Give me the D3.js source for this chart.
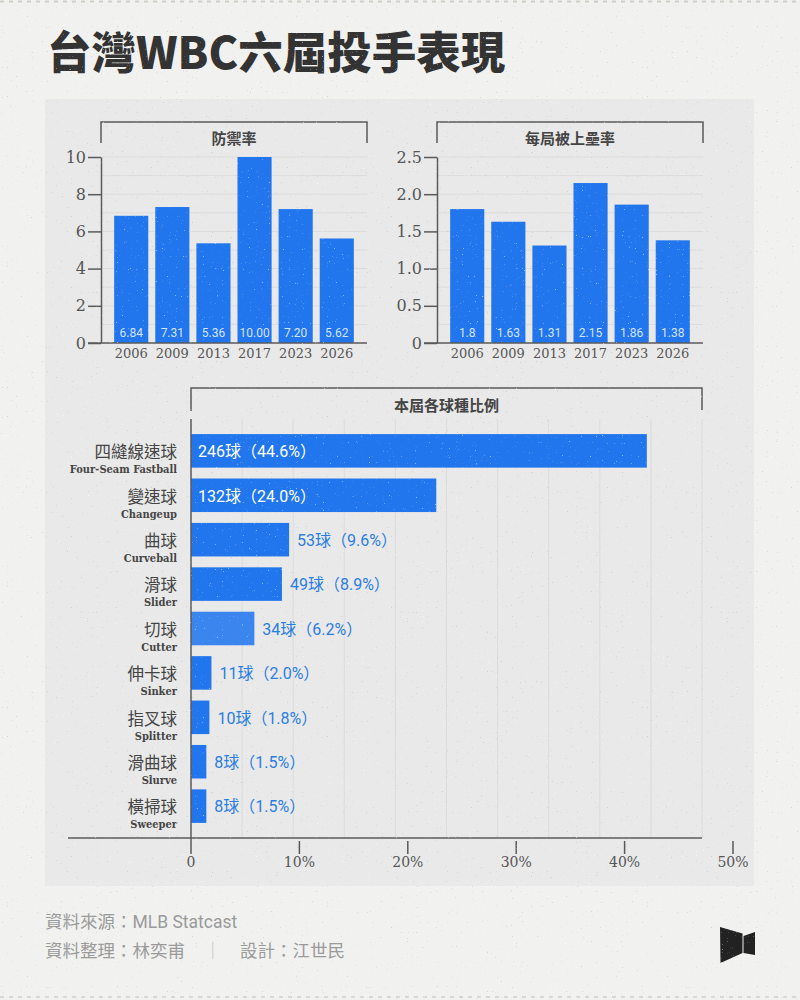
<!DOCTYPE html>
<html><head><meta charset="utf-8">
<script src="https://cdn.jsdelivr.net/npm/d3@7"></script>
<style>html,body{margin:0;padding:0;background:#f1f1f0;}svg{display:block;}</style>
</head><body>
<svg id="c" width="800" height="1000"></svg>
<script>
// ---------- data ----------
const years = ["2006","2009","2013","2017","2023","2026"];
const eraValues = [6.84, 7.31, 5.36, 10.00, 7.20, 5.62];
const whipValues = [1.8, 1.63, 1.31, 2.15, 1.86, 1.38];
const eraTicks = [0, 2, 4, 6, 8, 10];
const whipTicks = [0, 0.5, 1.0, 1.5, 2.0, 2.5];
const pitchZh = ["四縫線速球","變速球","曲球","滑球","切球","伸卡球","指叉球","滑曲球","橫掃球"];
const pitchEn = ["Four-Seam Fastball","Changeup","Curveball","Slider","Cutter","Sinker","Splitter","Slurve","Sweeper"];
const pitchCount = [246, 132, 53, 49, 34, 11, 10, 8, 8];
const pitchPct = [44.6, 24.0, 9.6, 8.9, 6.2, 2.0, 1.8, 1.5, 1.5];
const pctTicks = [0, 10, 20, 30, 40, 50];

// ---------- styles ----------
const BLUE = "#2176ee";
const CJK = "'Noto Sans CJK TC','Noto Sans',sans-serif";
const SLAB = "'DejaVu Serif',serif";
const SLABC = "'DejaVu Serif Condensed','DejaVu Serif',serif";
const SANS = "Roboto,'Noto Sans CJK TC',sans-serif";
const AX = "#5a5a5a";

const svg = d3.select("#c");
const defs = svg.append("defs");
const f1 = defs.append("filter").attr("id","speckDark").attr("x",0).attr("y",0).attr("width","100%").attr("height","100%");
f1.append("feTurbulence").attr("type","fractalNoise").attr("baseFrequency",0.8).attr("numOctaves",1).attr("seed",7);
f1.append("feColorMatrix").attr("type","matrix").attr("values","0 0 0 0 0.45  0 0 0 0 0.42  0 0 0 0 0.38  14 0 0 0 -9.9");
const f2 = defs.append("filter").attr("id","speckLight").attr("x",0).attr("y",0).attr("width","100%").attr("height","100%");
f2.append("feTurbulence").attr("type","fractalNoise").attr("baseFrequency",0.85).attr("numOctaves",1).attr("seed",21);
f2.append("feColorMatrix").attr("type","matrix").attr("values","0 0 0 0 1  0 0 0 0 1  0 0 0 0 1  14 0 0 0 -9.9");

svg.append("rect").attr("width",800).attr("height",1000).attr("fill","#f1f1f0");
svg.append("line").attr("x1",0).attr("x2",800).attr("y1",1.5).attr("y2",1.5).attr("stroke","#cfcfc8").attr("stroke-width",2).attr("stroke-dasharray","4,5");
svg.append("line").attr("x1",0).attr("x2",800).attr("y1",997).attr("y2",997).attr("stroke","#d8d8d2").attr("stroke-width",2).attr("stroke-dasharray","4,5");
svg.append("rect").attr("x",45).attr("y",99).attr("width",709).attr("height",787).attr("fill","#e9e9e9");

// title
svg.append("text").attr("x",47).attr("y",69).attr("font-family",CJK).attr("font-weight",900)
  .attr("font-size",44.5).attr("fill","#333").text("台灣WBC六屆投手表現");

// ---------- top charts ----------
function drawTop(x0, x1, values, maxV, ticks, step, title, tickFmt, valFmt){
  const g = svg.append("g");
  const y = d3.scaleLinear().domain([0, maxV]).range([343, 157]);
  const x = d3.scaleBand().domain(years).range([x0, x1]).paddingInner(0.17).paddingOuter(0.32);
  const grid = d3.range(0, maxV + 1e-9, step).slice(1);
  g.selectAll(".gl").data(grid).join("line")
    .attr("x1", x0).attr("x2", x1).attr("y1", d => y(d)).attr("y2", d => y(d))
    .attr("stroke", "#dcdcdc").attr("stroke-width", 1);
  g.selectAll(".bar").data(values).join("rect")
    .attr("x", (d,i) => x(years[i])).attr("width", x.bandwidth())
    .attr("y", d => y(d)).attr("height", d => y(0) - y(d)).attr("fill", BLUE);
  g.selectAll(".vl").data(values).join("text")
    .attr("x", (d,i) => x(years[i]) + x.bandwidth()/2).attr("y", 337)
    .attr("text-anchor","middle").attr("font-family",SANS).attr("font-size",12)
    .attr("fill","rgba(255,255,255,0.82)").text(valFmt);
  const ay = g.append("g").attr("transform",`translate(${x0},0)`)
    .call(d3.axisLeft(y).tickValues(ticks).tickSize(13).tickSizeOuter(0).tickPadding(2).tickFormat(tickFmt));
  ay.select(".domain").attr("stroke",AX).attr("stroke-width",1.5);
  ay.selectAll(".tick line").attr("stroke",AX).attr("stroke-width",1.5);
  ay.selectAll(".tick text").attr("font-family",SLAB).attr("font-size",16).attr("fill","#555");
  g.append("line").attr("x1",x0-13).attr("x2",x1).attr("y1",y(0)).attr("y2",y(0)).attr("stroke",AX).attr("stroke-width",1.5);
  g.selectAll(".xl").data(years).join("text")
    .attr("x", d => x(d) + x.bandwidth()/2).attr("y", 358).attr("text-anchor","middle")
    .attr("font-family",SLAB).attr("font-size",13).attr("fill","#555").text(d => d);
  g.append("path").attr("d",`M${x0},143V122H${x1}V143`).attr("fill","none").attr("stroke",AX).attr("stroke-width",1.5);
  g.append("text").attr("x",(x0+x1)/2).attr("y",144).attr("text-anchor","middle")
    .attr("font-family",CJK).attr("font-weight",700).attr("font-size",15).attr("fill","#444").text(title);
}
drawTop(101, 367, eraValues, 10, eraTicks, 1, "防禦率", d => d3.format("d")(d), d => d.toFixed(2));
drawTop(437, 703, whipValues, 2.5, whipTicks, 0.25, "每局被上壘率", d => d === 0 ? "0" : d.toFixed(1), d => String(d));

// ---------- bottom chart ----------
const gb = svg.append("g");
const xb = d3.scaleLinear().domain([0, 50]).range([191, 702]);
const xa = d3.scaleLinear().domain([0, 50]).range([191, 733]);
const yb = d3.scaleBand().domain(pitchZh).range([419, 838]).paddingInner(0.245).paddingOuter(0.34);

gb.selectAll(".vg").data(d3.range(5, 51, 5)).join("line")
  .attr("x1", d => xb(d)).attr("x2", d => xb(d)).attr("y1", 419).attr("y2", 838)
  .attr("stroke", "#dcdcdc").attr("stroke-width", 1);
gb.selectAll(".bar").data(pitchPct).join("rect")
  .attr("x", xb(0)).attr("y", (d,i) => yb(pitchZh[i])).attr("height", yb.bandwidth())
  .attr("width", d => xb(d) - xb(0)).attr("fill", BLUE)
  .attr("fill-opacity", (d,i) => pitchEn[i] === "Cutter" ? 0.88 : 1);
gb.selectAll(".vl").data(pitchPct).join("text")
  .attr("x", d => d > 20 ? xb(0) + 7 : xb(d) + 8)
  .attr("y", (d,i) => yb(pitchZh[i]) + 23)
  .attr("font-family",SANS).attr("font-size",16)
  .attr("fill", d => d > 20 ? "#ffffff" : "#2a7de1")
  .text((d,i) => `${pitchCount[i]}球（${d.toFixed(1)}%）`);
gb.selectAll(".zh").data(pitchZh).join("text")
  .attr("x",177).attr("y", d => yb(d) + 24).attr("text-anchor","end")
  .attr("font-family",CJK).attr("font-size",16.5).attr("fill","#444").text(d => d);
gb.selectAll(".en").data(pitchEn).join("text")
  .attr("x",177).attr("y", (d,i) => yb(pitchZh[i]) + 39).attr("text-anchor","end")
  .attr("font-family",SLABC).attr("font-weight",700).attr("font-size",11).attr("fill","#444").text(d => d);

gb.append("line").attr("x1",191).attr("x2",191).attr("y1",419).attr("y2",854).attr("stroke",AX).attr("stroke-width",1.5);
gb.append("line").attr("x1",68).attr("x2",702).attr("y1",838).attr("y2",838).attr("stroke",AX).attr("stroke-width",1.5);
gb.selectAll(".tk").data(pctTicks.slice(1)).join("line")
  .attr("x1", d => xa(d)).attr("x2", d => xa(d)).attr("y1", 841).attr("y2", 854)
  .attr("stroke",AX).attr("stroke-width",1.5);
gb.selectAll(".tl").data(pctTicks).join("text")
  .attr("x", d => xa(d)).attr("y", 867).attr("text-anchor","middle")
  .attr("font-family",SLAB).attr("font-size",14).attr("fill","#555")
  .text(d => d === 0 ? "0" : d + "%");
gb.append("path").attr("d","M191,411V388H702V410").attr("fill","none").attr("stroke",AX).attr("stroke-width",1.5);
gb.append("text").attr("x",446.5).attr("y",411).attr("text-anchor","middle")
  .attr("font-family",CJK).attr("font-weight",700).attr("font-size",15).attr("fill","#444").text("本屆各球種比例");

// ---------- footer ----------
const ft = svg.append("g").attr("font-family","Roboto,'Noto Sans CJK TC',sans-serif").attr("font-size",17.5).attr("fill","#9a9a9a");
ft.append("text").attr("x",45).attr("y",928).text("資料來源：MLB Statcast");
ft.append("text").attr("x",45).attr("y",957).text("資料整理：林奕甫");
ft.append("text").attr("x",204).attr("y",957).attr("fill","#c4c4c4").text("｜");
ft.append("text").attr("x",240).attr("y",957).text("設計：江世民");

// logo
svg.append("polygon").attr("points","720,927 742.5,933.5 742.5,953 720.5,963").attr("fill","#222");
svg.append("polygon").attr("points","743.5,936 755,932 755,955 743.5,953").attr("fill","#222");

// speckle texture
svg.append("rect").attr("width",800).attr("height",1000).attr("filter","url(#speckDark)").attr("opacity",0.4).attr("pointer-events","none");
svg.append("rect").attr("width",800).attr("height",1000).attr("filter","url(#speckLight)").attr("opacity",0.5).attr("pointer-events","none");
</script>
</body></html>
